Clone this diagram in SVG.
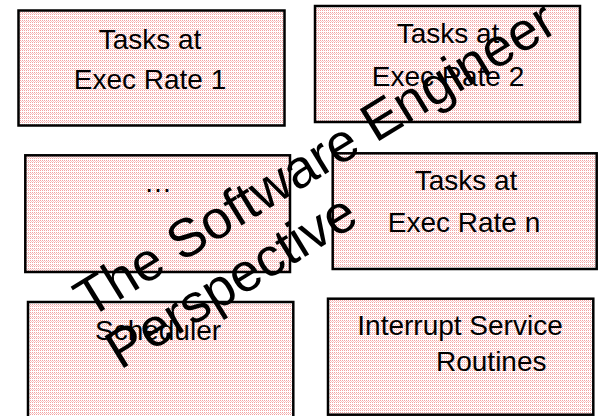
<svg xmlns="http://www.w3.org/2000/svg" width="599" height="416" viewBox="0 0 599 416">
  <defs>
    <!-- fine pink dither used as the box fill -->
    <pattern id="dither" width="4" height="4" patternUnits="userSpaceOnUse">
      <rect width="4" height="4" fill="#ffffff"/>
      <rect x="0" y="0" width="1" height="1" fill="#f3a3a3"/>
      <rect x="2" y="0" width="1" height="1" fill="#f3a3a3"/>
      <rect x="1" y="1" width="1" height="1" fill="#f8c8c8"/>
      <rect x="3" y="1" width="1" height="1" fill="#f8c8c8"/>
      <rect x="0" y="2" width="1" height="1" fill="#f3a3a3"/>
      <rect x="2" y="2" width="1" height="1" fill="#f3a3a3"/>
    </pattern>
    <style>
      .box { fill: url(#dither); stroke: #000000; stroke-width: 2.5; }
      .lbl { font-family: "Liberation Sans", Arial, sans-serif; font-size: 28px; fill: #000000; }
      .mid { text-anchor: middle; }
      .mark { font-family: "Liberation Sans", Arial, sans-serif; font-size: 54px; fill: #000000; }
    </style>
  </defs>

  <rect width="599" height="416" fill="#ffffff"/>

  <g id="tasks-rate-1">
    <rect class="box" x="18.5" y="10.5" width="266" height="115"/>
    <text class="lbl mid" x="150" y="49">Tasks at</text>
    <text class="lbl mid" x="150" y="89">Exec Rate 1</text>
  </g>

  <g id="tasks-rate-2">
    <rect class="box" x="315" y="6" width="265" height="116"/>
    <text class="lbl mid" x="448" y="43">Tasks at</text>
    <text class="lbl mid" x="448" y="86">Exec Rate 2</text>
  </g>

  <g id="tasks-ellipsis">
    <rect class="box" x="25.3" y="155.3" width="264.7" height="116.7"/>
    <text class="lbl mid" x="158" y="192">…</text>
  </g>

  <g id="tasks-rate-n">
    <rect class="box" x="332.7" y="153.3" width="264" height="115.7"/>
    <text class="lbl mid" x="466" y="190">Tasks at</text>
    <text class="lbl mid" x="464" y="232">Exec Rate n</text>
  </g>

  <g id="scheduler">
    <rect class="box" x="28" y="302" width="265.3" height="118"/>
    <text class="lbl mid" x="158" y="340">Scheduler</text>
  </g>

  <g id="isr">
    <rect class="box" x="328" y="298.7" width="265.3" height="116"/>
    <text class="lbl mid" x="460" y="335">Interrupt Service</text>
    <text class="lbl" x="436" y="371">Routines</text>
  </g>

  <g id="connectors"/>

  <!-- diagonal overlay caption -->
  <g id="overlay" transform="translate(89,319) rotate(-31.5)">
    <text class="mark" x="0" y="0">The Software Engineer</text>
    <text class="mark" x="0" y="60">Perspective</text>
  </g>
</svg>
